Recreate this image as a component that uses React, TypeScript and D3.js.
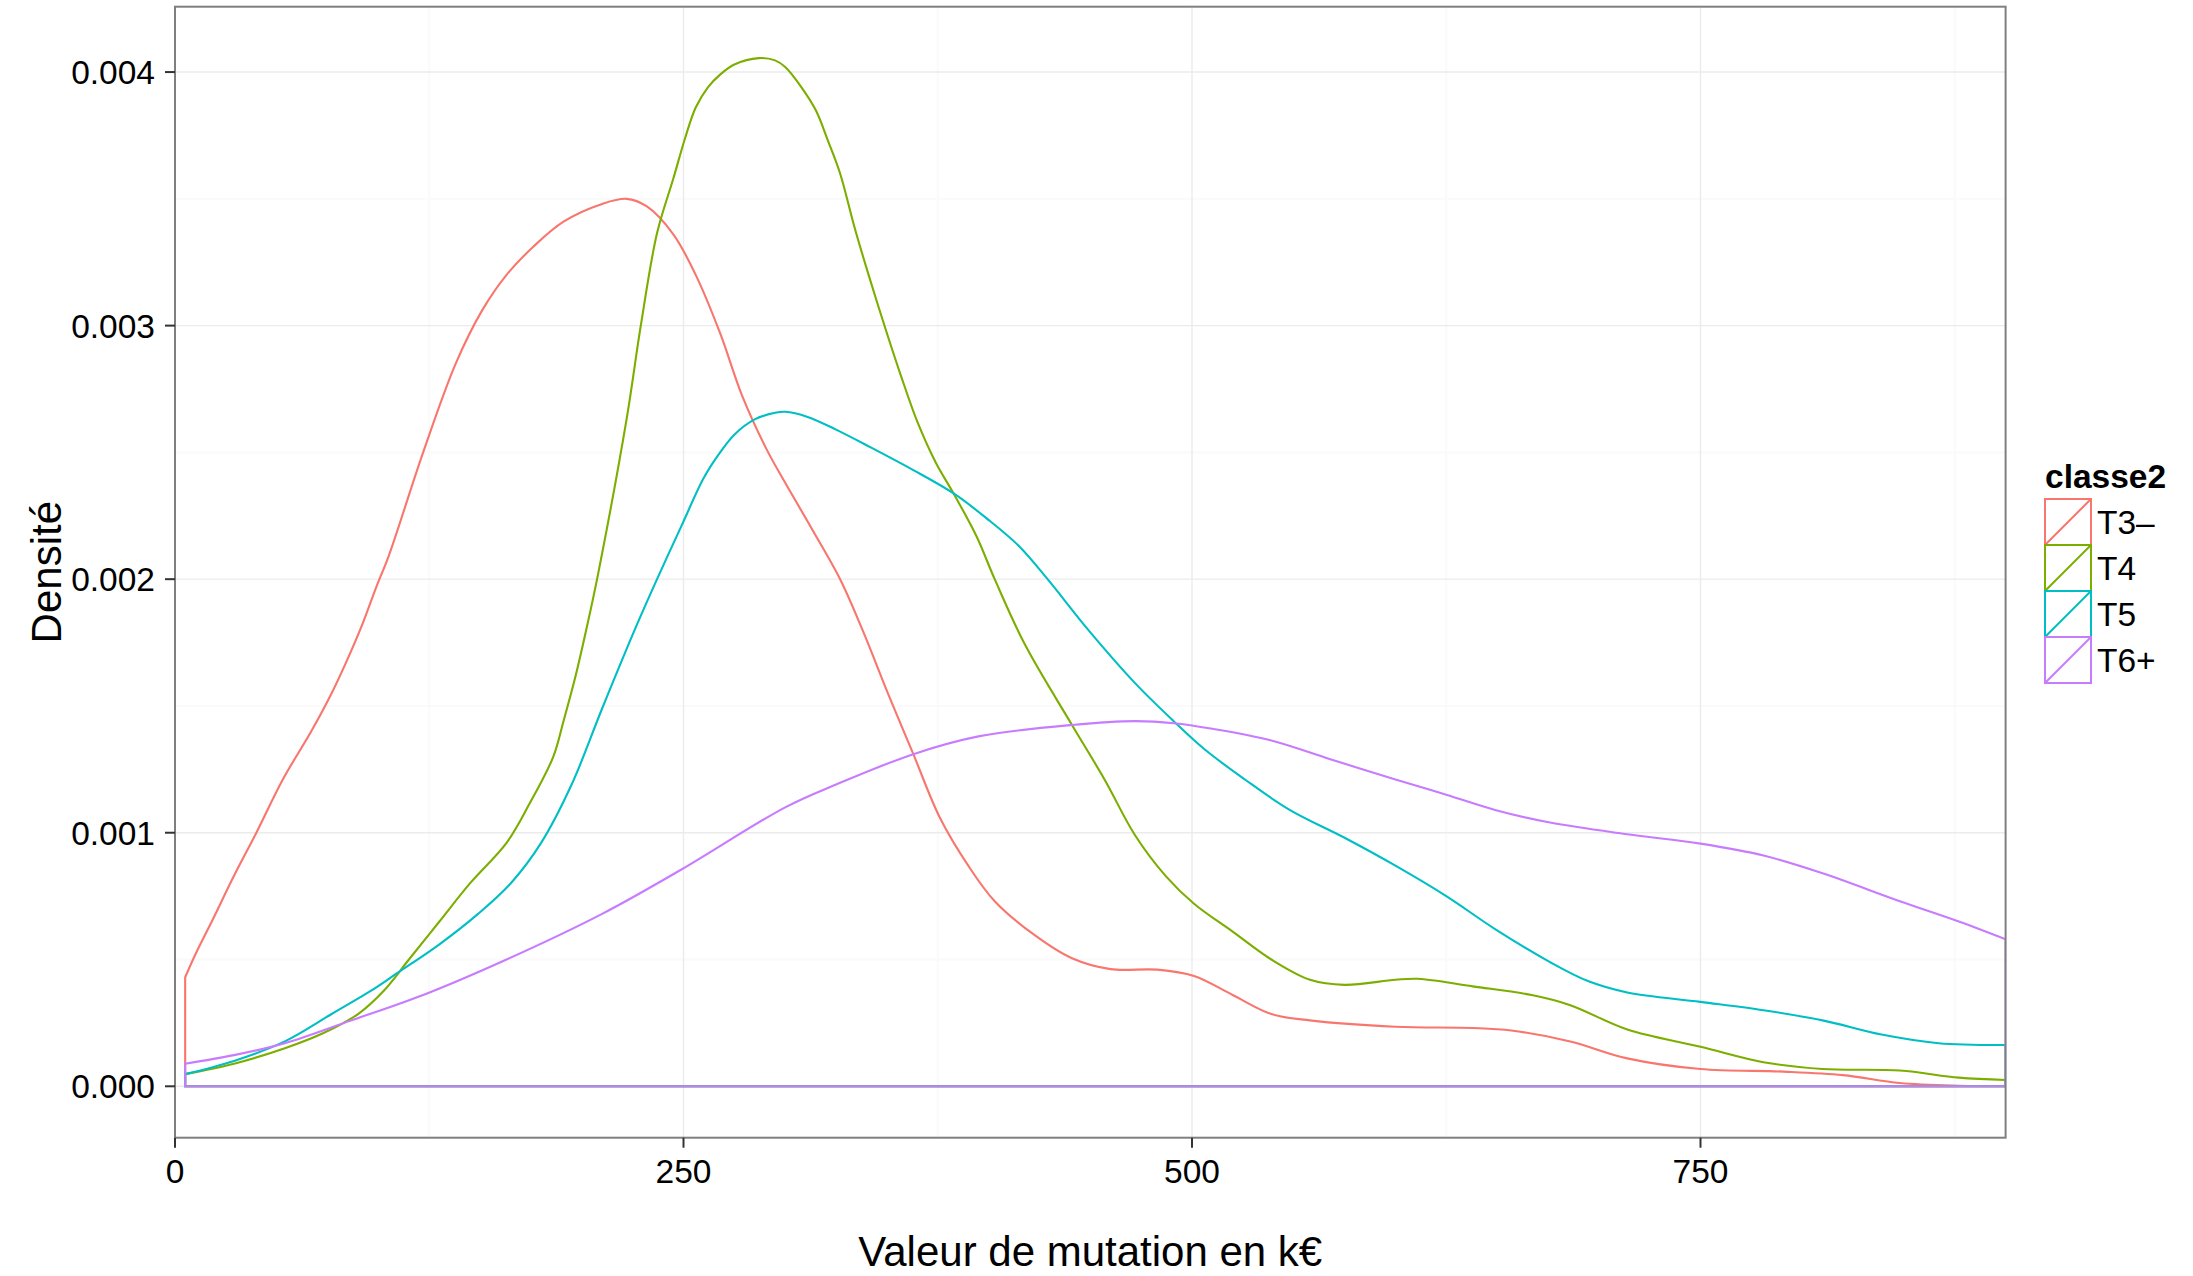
import React from 'react';
import * as d3 from 'd3';

const W = 2193;
const H = 1276;

const categories = ['T3–', 'T4', 'T5', 'T6+'];
const colors = ['#F8766D', '#7CAE00', '#00BFC4', '#C77CFF'];
const xTicks = [0, 250, 500, 750];
const xMinorTicks = [125, 375, 625, 875];
const yTicks = [0, 0.001, 0.002, 0.003, 0.004];
const yMinorTicks = [0.0005, 0.0015, 0.0025, 0.0035];
const xDomain = [0, 900];
const xTitle = 'Valeur de mutation en k€';
const yTitle = 'Densité';
const legendTitle = 'classe2';

// density estimates [value in k€, density]
const t3: [number, number][] = [
  [5, 0.00043], [10, 0.00052], [19, 0.000665], [29, 0.00083], [40, 0.001], [53, 0.00121],
  [67, 0.0014], [77, 0.00155], [84, 0.00167], [92, 0.00182], [99, 0.00197], [105, 0.00209],
  [122, 0.0025], [138, 0.00285], [151, 0.00306], [163, 0.0032], [176, 0.00331], [191, 0.00341],
  [210, 0.00348], [222, 0.0035], [232, 0.00347], [245, 0.00336], [256, 0.0032], [268, 0.00297],
  [279, 0.00272], [291, 0.00251], [300, 0.00238], [313, 0.0022], [327, 0.002], [338, 0.0018],
  [351, 0.00154], [363, 0.00131], [376, 0.00106], [390, 0.00087], [403, 0.00073], [422, 0.0006],
  [441, 0.000505], [460, 0.000462], [483, 0.00046], [501, 0.000435], [520, 0.00036], [539, 0.000285],
  [558, 0.00026], [600, 0.000235], [638, 0.00023], [657, 0.00022], [686, 0.000177], [714, 0.00011],
  [750, 0.000068], [791, 0.000058], [820, 0.000044], [848, 0.000013], [877, 0.000002], [900, 0],
];
const t4: [number, number][] = [
  [5, 0.000048], [29, 0.000089], [54, 0.00015], [73, 0.00021], [90, 0.000285], [103, 0.00038],
  [115, 0.0005], [130, 0.00065], [145, 0.0008], [163, 0.00096], [174, 0.00111], [186, 0.0013],
  [191, 0.00144], [197, 0.00162], [203, 0.00183], [208, 0.00202], [222, 0.00263], [229, 0.003],
  [237, 0.003365], [245, 0.00358], [251, 0.003745], [256, 0.00386], [262, 0.00394], [268, 0.00399],
  [275, 0.00403], [287, 0.004055], [295, 0.004046], [300, 0.00402], [308, 0.00394], [315, 0.00385],
  [321, 0.00373], [327, 0.0036], [334, 0.00339], [341, 0.0032], [350, 0.00297], [357, 0.0028],
  [365, 0.00262], [374, 0.00246], [383, 0.002335], [394, 0.00217], [403, 0.002], [418, 0.00174],
  [441, 0.001425], [457, 0.00121], [472, 0.00099], [487, 0.00083], [501, 0.00072], [520, 0.00061],
  [539, 0.0005], [558, 0.00042], [575, 0.0004], [600, 0.00042], [611, 0.000424], [638, 0.000394],
  [667, 0.00036], [686, 0.00032], [714, 0.000224], [750, 0.000156], [781, 0.000095], [810, 0.000068],
  [848, 0.000062], [877, 0.000034], [900, 0.000025],
];
const t5: [number, number][] = [
  [5, 0.000048], [29, 0.0001], [54, 0.000177], [77, 0.000285], [96, 0.000375], [109, 0.000445],
  [130, 0.00056], [149, 0.00068], [165, 0.0008], [180, 0.00096], [195, 0.00119], [210, 0.00149],
  [226, 0.0018], [237, 0.002], [249, 0.00221], [260, 0.0024], [268, 0.0025], [275, 0.00257],
  [285, 0.00263], [295, 0.002656], [300, 0.00266], [311, 0.00264], [325, 0.00259], [342, 0.00252],
  [363, 0.00243], [383, 0.002337], [399, 0.00224], [415, 0.00213], [429, 0.002], [449, 0.0018],
  [472, 0.00159], [491, 0.00144], [506, 0.00133], [526, 0.00121], [548, 0.00109], [575, 0.00098],
  [600, 0.00087], [625, 0.00075], [649, 0.00062], [676, 0.00049], [695, 0.000414], [714, 0.00037],
  [750, 0.000333], [781, 0.0003], [810, 0.00026], [839, 0.000204], [867, 0.00017], [900, 0.000163],
];
const t6: [number, number][] = [
  [5, 0.000089], [29, 0.000123], [54, 0.00017], [86, 0.000258], [122, 0.00036], [163, 0.0005],
  [210, 0.00068], [249, 0.000855], [300, 0.0011], [325, 0.00119], [363, 0.00131], [395, 0.00138],
  [441, 0.001425], [472, 0.00144], [491, 0.001432], [510, 0.00141], [539, 0.001364], [568, 0.00129],
  [600, 0.00121], [625, 0.00115], [649, 0.00109], [676, 0.00104], [714, 0.000994], [750, 0.000957],
  [781, 0.00091], [810, 0.00084], [848, 0.00073], [877, 0.00065], [900, 0.00058],
];
const seriesData = [t3, t4, t5, t6];

const FONT = "'Liberation Sans', Arial, Helvetica, sans-serif";

export default function App() {
  const pl = 175, pr = 2005.6, pt = 6.7, pb = 1137.7;
  const ymax = d3.max(seriesData.flat(), (d) => d[1]) as number;
  const pad = ymax * 0.05;
  const x = d3.scaleLinear().domain(xDomain).range([pl, pr]);
  const y = d3.scaleLinear().domain([-pad, ymax + pad]).range([pb, pt]);
  const line = d3
    .line<[number, number]>()
    .x((d) => x(d[0]))
    .y((d) => y(d[1]))
    .curve(d3.curveCatmullRom.alpha(0.5));
  const fmt = d3.format('.3f');

  const paths = seriesData.map((pts) => {
    const s = line(pts) as string;
    const first = pts[0];
    const last = pts[pts.length - 1];
    return `M${x(first[0])},${y(0)}L${s.slice(1)}L${x(last[0])},${y(0)}Z`;
  });

  const keySize = 46;
  const keyX = 2045;
  const keyY = 499;

  return (
    <svg width={W} height={H} style={{ position: 'absolute', left: 0, top: 0, background: '#fff' }}>
      <defs>
        <clipPath id="panel">
          <rect x={pl} y={pt} width={pr - pl} height={pb - pt} />
        </clipPath>
      </defs>
      <rect x={0} y={0} width={W} height={H} fill="#fff" />
      {xMinorTicks.map((t) => (
        <line key={'xm' + t} x1={x(t)} x2={x(t)} y1={pt} y2={pb} stroke="#FAFAFA" strokeWidth={2} />
      ))}
      {yMinorTicks.map((t) => (
        <line key={'ym' + t} x1={pl} x2={pr} y1={y(t)} y2={y(t)} stroke="#FAFAFA" strokeWidth={2} />
      ))}
      {xTicks.map((t) => (
        <line key={'xg' + t} x1={x(t)} x2={x(t)} y1={pt} y2={pb} stroke="#EBEBEB" strokeWidth={1.4} />
      ))}
      {yTicks.map((t) => (
        <line key={'yg' + t} x1={pl} x2={pr} y1={y(t)} y2={y(t)} stroke="#EBEBEB" strokeWidth={1.4} />
      ))}
      <g clipPath="url(#panel)">
        {paths.map((p, i) => (
          <path key={categories[i]} d={p} fill="none" stroke={colors[i]} strokeWidth={2.1} strokeLinejoin="miter" />
        ))}
      </g>
      <rect x={pl} y={pt} width={pr - pl} height={pb - pt} fill="none" stroke="#7F7F7F" strokeWidth={2} />
      {yTicks.map((t) => (
        <g key={'yt' + t}>
          <line x1={pl - 10} x2={pl} y1={y(t)} y2={y(t)} stroke="#333" strokeWidth={2} />
          <text x={pl - 20} y={y(t) + 12} textAnchor="end" fontFamily={FONT} fontSize={33.5} fill="#000">
            {fmt(t)}
          </text>
        </g>
      ))}
      {xTicks.map((t) => (
        <g key={'xt' + t}>
          <line x1={x(t)} x2={x(t)} y1={pb} y2={pb + 10} stroke="#333" strokeWidth={2} />
          <text x={x(t)} y={1183} textAnchor="middle" fontFamily={FONT} fontSize={33.5} fill="#000">
            {t}
          </text>
        </g>
      ))}
      <text x={(pl + pr) / 2} y={1266} textAnchor="middle" fontFamily={FONT} fontSize={42} fill="#000">
        {xTitle}
      </text>
      <text
        transform={`translate(61,${(pt + pb) / 2}) rotate(-90)`}
        textAnchor="middle"
        fontFamily={FONT}
        fontSize={42}
        fill="#000"
      >
        {yTitle}
      </text>
      <text x={2045} y={488} fontFamily={FONT} fontSize={33.5} fontWeight="bold" fill="#000">
        {legendTitle}
      </text>
      {categories.map((c, i) => {
        const ky = keyY + i * keySize;
        return (
          <g key={'lg' + c}>
            <rect x={keyX} y={ky} width={keySize} height={keySize} fill="#fff" stroke={colors[i]} strokeWidth={2} />
            <line x1={keyX} y1={ky + keySize} x2={keyX + keySize} y2={ky} stroke={colors[i]} strokeWidth={2} />
            <text x={2097} y={ky + keySize / 2 + 12} fontFamily={FONT} fontSize={33.5} fill="#000">
              {c}
            </text>
          </g>
        );
      })}
    </svg>
  );
}
